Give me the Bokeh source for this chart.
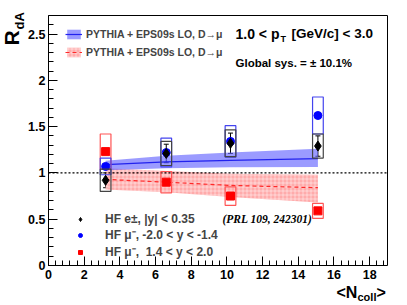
import numpy as np
from bokeh.plotting import figure
from bokeh.models import (ColumnDataSource, Whisker, TeeHead, Label, Legend, LegendItem,
                          FixedTicker, CustomJSTickFormatter, Range1d, LinearAxis)
from bokeh.embed import file_html
from bokeh.resources import INLINE

# ---------------- data ----------------
ncoll = [3.2, 6.6, 10.2, 15.1]

# HF electrons |y|<0.35 (PRL 109, 242301)
e_val = [0.92, 1.21, 1.32, 1.29]
e_stat = [0.08, 0.10, 0.11, 0.11]
e_sys = [0.12, 0.13, 0.145, 0.13]

# HF muons backward -2.0 < y < -1.4
mb_val = [1.07, 1.22, 1.34, 1.62]
mb_stat = [0.02, 0.02, 0.02, 0.03]
mb_sys = [0.09, 0.155, 0.17, 0.20]

# HF muons forward 1.4 < y < 2.0
mf_val = [1.23, 0.90, 0.75, 0.59]
mf_stat = [0.02, 0.02, 0.02, 0.02]
mf_sys = [0.19, 0.115, 0.10, 0.08]

# PYTHIA + EPS09s LO model bands
mod_x = [3.2, 6.6, 10.2, 15.1]
mod_b_c = [1.09, 1.12, 1.135, 1.155]
mod_b_lo = [1.03, 1.05, 1.06, 1.065]
mod_b_hi = [1.13, 1.185, 1.22, 1.26]
mod_f_c = [0.93, 0.90, 0.865, 0.84]
mod_f_lo = [0.82, 0.79, 0.74, 0.68]
mod_f_hi = [1.05, 1.02, 0.99, 0.98]

y_ticks = [0, 0.5, 1, 1.5, 2, 2.5]
x_ticks = [0, 2, 4, 6, 8, 10, 12, 14, 16, 18]
X_AXIS = (0, 19)
Y_AXIS = (0, 2.7)
REF_LEVEL = 1.0

# ---------------- layout ----------------
W, H = 407, 305
FRAME_PX = dict(left=48, right=387, top=15, bottom=265)   # axis box in canvas pixels
sx = (FRAME_PX["right"] - FRAME_PX["left"]) / (X_AXIS[1] - X_AXIS[0])
sy = (FRAME_PX["bottom"] - FRAME_PX["top"]) / (Y_AXIS[1] - Y_AXIS[0])
x_view = (X_AXIS[0] - FRAME_PX["left"] / sx, X_AXIS[0] + (W - FRAME_PX["left"]) / sx)
y_view = (Y_AXIS[0] - (H - FRAME_PX["bottom"]) / sy, Y_AXIS[0] + FRAME_PX["bottom"] / sy)

FONT = "Liberation Sans"

p = figure(width=W, height=H, output_backend="svg", toolbar_location=None,
           x_range=Range1d(*x_view), y_range=Range1d(*y_view),
           min_border_left=0, min_border_right=0, min_border_top=0, min_border_bottom=0)
p.grid.visible = False
p.outline_line_color = None
p.background_fill_color = "white"
p.border_fill_color = "white"

xa = p.xaxis[0]
ya = p.yaxis[0]
xa.fixed_location = Y_AXIS[0]
ya.fixed_location = X_AXIS[0]
xa.bounds = X_AXIS
ya.bounds = Y_AXIS
for ax in (xa, ya):
    ax.major_tick_in = 9
    ax.major_tick_out = 0
    ax.minor_tick_in = 5
    ax.minor_tick_out = 0
    ax.major_label_text_font = FONT
    ax.major_label_text_font_style = "bold"
    ax.major_label_text_font_size = "12.5px"
    ax.major_label_text_color = "black"
    ax.axis_line_color = "black"
    ax.major_tick_line_color = "black"
    ax.minor_tick_line_color = "black"
    ax.formatter = CustomJSTickFormatter(code="return tick.toString()")
ya.ticker = FixedTicker(ticks=y_ticks, minor_ticks=list(np.round(np.arange(0, 2.71, 0.1), 2)))
xa.ticker = FixedTicker(ticks=x_ticks, minor_ticks=list(np.round(np.arange(0, 19.01, 0.4), 2)))
ya.major_label_standoff = 3
xa.major_label_standoff = 4

# closing frame lines (top / right) as tick-less axes
top = LinearAxis(fixed_location=Y_AXIS[1], bounds=X_AXIS, ticker=FixedTicker(ticks=[]),
                 major_tick_in=0, major_tick_out=0, minor_tick_in=0, minor_tick_out=0,
                 major_label_text_font_size="0px", axis_line_color="black")
right = LinearAxis(fixed_location=X_AXIS[1], bounds=Y_AXIS, ticker=FixedTicker(ticks=[]),
                   major_tick_in=0, major_tick_out=0, minor_tick_in=0, minor_tick_out=0,
                   major_label_text_font_size="0px", axis_line_color="black")
p.add_layout(top, "above")
p.add_layout(right, "right")

# model bands
src_b = ColumnDataSource(dict(x=mod_x, c=mod_b_c, lo=mod_b_lo, hi=mod_b_hi))
src_f = ColumnDataSource(dict(x=mod_x, c=mod_f_c, lo=mod_f_lo, hi=mod_f_hi))
rf_band = p.varea(x="x", y1="lo", y2="hi", source=src_f, fill_color="#ff9c9c", fill_alpha=0.85,
                  hatch_pattern="+", hatch_color="white", hatch_alpha=0.45, hatch_scale=4,
                  hatch_weight=1)
rb_band = p.varea(x="x", y1="lo", y2="hi", source=src_b, fill_color="#6666ff", fill_alpha=0.65)
rf_line = p.line(x="x", y="c", source=src_f, line_color="#ff2a2a", line_width=1.2, line_dash="4 3")
rb_line = p.line(x="x", y="c", source=src_b, line_color="#2222ee", line_width=1.2)

# y = 1 reference
p.line(x=list(X_AXIS), y=[REF_LEVEL, REF_LEVEL], line_color="black", line_width=1.3, line_dash="2 2")

def series(vals, stat, sys, color, box_color, marker, size):
    lo = [v - s for v, s in zip(vals, stat)]
    hi = [v + s for v, s in zip(vals, stat)]
    src = ColumnDataSource(dict(x=ncoll, y=vals, lo=lo, hi=hi, h=[2 * s for s in sys]))
    p.rect(x="x", y="y", width=0.6, height="h", source=src, fill_alpha=0,
           line_color=box_color, line_width=1.2)
    p.add_layout(Whisker(base="x", lower="lo", upper="hi", source=src, line_color=color,
                         line_width=1,
                         lower_head=TeeHead(size=5, line_color=color, line_width=1),
                         upper_head=TeeHead(size=5, line_color=color, line_width=1)))
    return p.scatter(x="x", y="y", source=src, marker=marker, size=size,
                     fill_color=color, line_color=color)

r_f = series(mf_val, mf_stat, mf_sys, "#ff0000", "#ff5555", "square", 8)
r_b = series(mb_val, mb_stat, mb_sys, "#0000ff", "#4444ee", "circle", 8)
r_e = series(e_val, e_stat, e_sys, "black", "#444444", "diamond", 10)

# legends (location = bottom-left corner, pixels from the canvas bottom-left)
leg1 = Legend(items=[LegendItem(label="PYTHIA + EPS09s LO, D\u2192\u03bc", renderers=[rb_band, rb_line]),
                     LegendItem(label="PYTHIA + EPS09s LO, D\u2192\u03bc", renderers=[rf_band, rf_line])],
              location=(65, 247), padding=0, margin=0, spacing=6, glyph_width=17, glyph_height=12,
              label_height=12, label_standoff=4, background_fill_alpha=0, border_line_alpha=0,
              label_text_font=FONT, label_text_font_style="bold", label_text_font_size="10.5px")
leg2 = Legend(items=[LegendItem(label="HF e\u00b1, |y| < 0.35", renderers=[r_e]),
                     LegendItem(label="HF \u03bc\u207b, -2.0 < y < -1.4", renderers=[r_b]),
                     LegendItem(label="HF \u03bc\u207b,  1.4 < y < 2.0", renderers=[r_f])],
              location=(75, 45), padding=0, margin=0, spacing=0, glyph_width=10, glyph_height=12,
              label_height=12, label_standoff=20, background_fill_alpha=0, border_line_alpha=0,
              label_text_font=FONT, label_text_font_style="bold", label_text_font_size="12px")
p.add_layout(leg1)
p.add_layout(leg2)

def lab(px, py, text, size, style="bold", font=FONT, align="left", angle=0, baseline="middle"):
    # px, py: canvas pixel position of the text anchor, converted to data units
    x = X_AXIS[0] + (px - FRAME_PX["left"]) / sx
    y = Y_AXIS[0] + (FRAME_PX["bottom"] - py) / sy
    p.add_layout(Label(x=x, y=y, text=text, text_font=font, text_font_style=style,
                       text_font_size=size, text_align=align, text_baseline=baseline,
                       angle=angle, text_color="black"))

lab(222, 218, "(PRL 109, 242301)", "11.5px", style="bold italic", font="Liberation Serif")

# header texts
lab(235, 33, "1.0 < p", "14px")
lab(280, 38, "T", "9px")
lab(291, 33, "[GeV/c] < 3.0", "13.5px")
lab(235, 62, "Global sys. = \u00b1 10.1%", "11.5px")

# axis titles
lab(336, 292, "<N", "16px")
lab(357, 296, "coll", "11px")
lab(376, 292, ">", "16px")
lab(11, 45, "R", "21px", angle=np.pi / 2)
lab(19, 29, "dA", "13px", angle=np.pi / 2)

open("out.html", "w").write(file_html(p, INLINE))
